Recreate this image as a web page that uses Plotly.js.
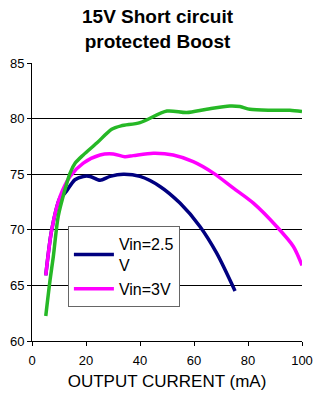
<!DOCTYPE html>
<html>
<head>
<meta charset="utf-8">
<script src="https://cdn.plot.ly/plotly-3.0.1.min.js"></script>
<style>html,body{margin:0;padding:0;background:#fff;}#chart{width:316px;height:394px;}</style>
</head>
<body>
<div id="chart"></div>
<script>
const titleText = "15V Short circuit<br>protected Boost";
const xTitle = "OUTPUT CURRENT (mA)";
const xTicks = [0, 20, 40, 60, 80, 100];
const yTicks = [60, 65, 70, 75, 80, 85];

const nameA = "Vin=2.5<br>V";
const xA = [5.1, 7.3, 10.4, 12.2, 15.9, 19, 21.5, 25.2, 28.9, 33.8, 40, 47.4, 54.8, 62.2, 68.4, 75.2];
const yA = [65.9, 70.0, 72.9, 73.3, 74.5, 74.8, 74.8, 74.46, 74.8, 75.0, 74.8, 73.9, 72.4, 70.3, 67.9, 64.5];

const nameB = "Vin=3V";
const xB = [5.1, 7.3, 10.4, 14.1, 19, 25.2, 30.1, 34.4, 37.5, 44.9, 52.3, 59.7, 67.2, 74.6, 82, 90.6, 96.8, 100];
const yB = [65.9, 70.0, 73.0, 74.8, 76.0, 76.73, 76.82, 76.58, 76.67, 76.88, 76.73, 76.13, 75.1, 73.75, 72.4, 70.3, 68.5, 66.8];

const nameC = "Vin=3.6V";
const xC = [5.1, 6.7, 7.9, 9.7, 12.2, 14.1, 16, 19, 24, 29.5, 33, 40, 50, 57.3, 64.7, 73.3, 77, 80.7, 88, 95.5, 100];
const yC = [62.25, 65.5, 67.6, 71.2, 73.6, 75.1, 76.0, 76.73, 77.8, 79.04, 79.35, 79.64, 80.68, 80.54, 80.84, 81.13, 81.08, 80.84, 80.75, 80.75, 80.63];

const traces = [
  {x: xA, y: yA, name: nameA, mode: "lines",
   line: {color: "#000080", width: 3.5, shape: "spline", smoothing: 0.8}},
  {x: xB, y: yB, name: nameB, mode: "lines",
   line: {color: "#ff00ff", width: 3.5, shape: "spline", smoothing: 0.8}},
  {x: xC, y: yC, name: nameC, mode: "lines", showlegend: false,
   line: {color: "#26b826", width: 3.5, shape: "spline", smoothing: 0.8}}
];

const layout = {
  width: 316, height: 394,
  margin: {l: 32, r: 14, t: 63, b: 53},
  paper_bgcolor: "#fff", plot_bgcolor: "#fff",
  font: {family: "Liberation Sans, Arial, sans-serif", color: "#000"},
  annotations: [
    {text: "<b>" + titleText + "</b>", xref: "paper", yref: "paper", x: 0.467, y: 1.122,
     xanchor: "center", yanchor: "middle", showarrow: false,
     font: {size: 19, family: "Liberation Sans, Arial, sans-serif", color: "#000"}}
  ],
  xaxis: {range: [0, 100], tickvals: xTicks, ticks: "outside", ticklen: 4, tickcolor: "#000",
          showline: true, linecolor: "#000", linewidth: 1, showgrid: false, zeroline: false,
          ticklabelstandoff: 3,
          tickfont: {size: 13}, title: {text: xTitle, font: {size: 17}, standoff: 8}},
  yaxis: {range: [60, 85], tickvals: yTicks, ticks: "outside", ticklen: 4, tickcolor: "#000",
          showline: true, linecolor: "#000", linewidth: 1, showgrid: true, gridcolor: "#000", gridwidth: 1,
          zeroline: false, tickfont: {size: 13}},
  legend: {x: 0.133, y: 0.413, xanchor: "left", yanchor: "top", bgcolor: "#fff",
           bordercolor: "#666", borderwidth: 1, font: {size: 16}, traceorder: "normal",
           itemwidth: 40, tracegroupgap: 0},
  showlegend: true
};

Plotly.newPlot("chart", traces, layout, {displayModeBar: false, staticPlot: true});
</script>
</body>
</html>
